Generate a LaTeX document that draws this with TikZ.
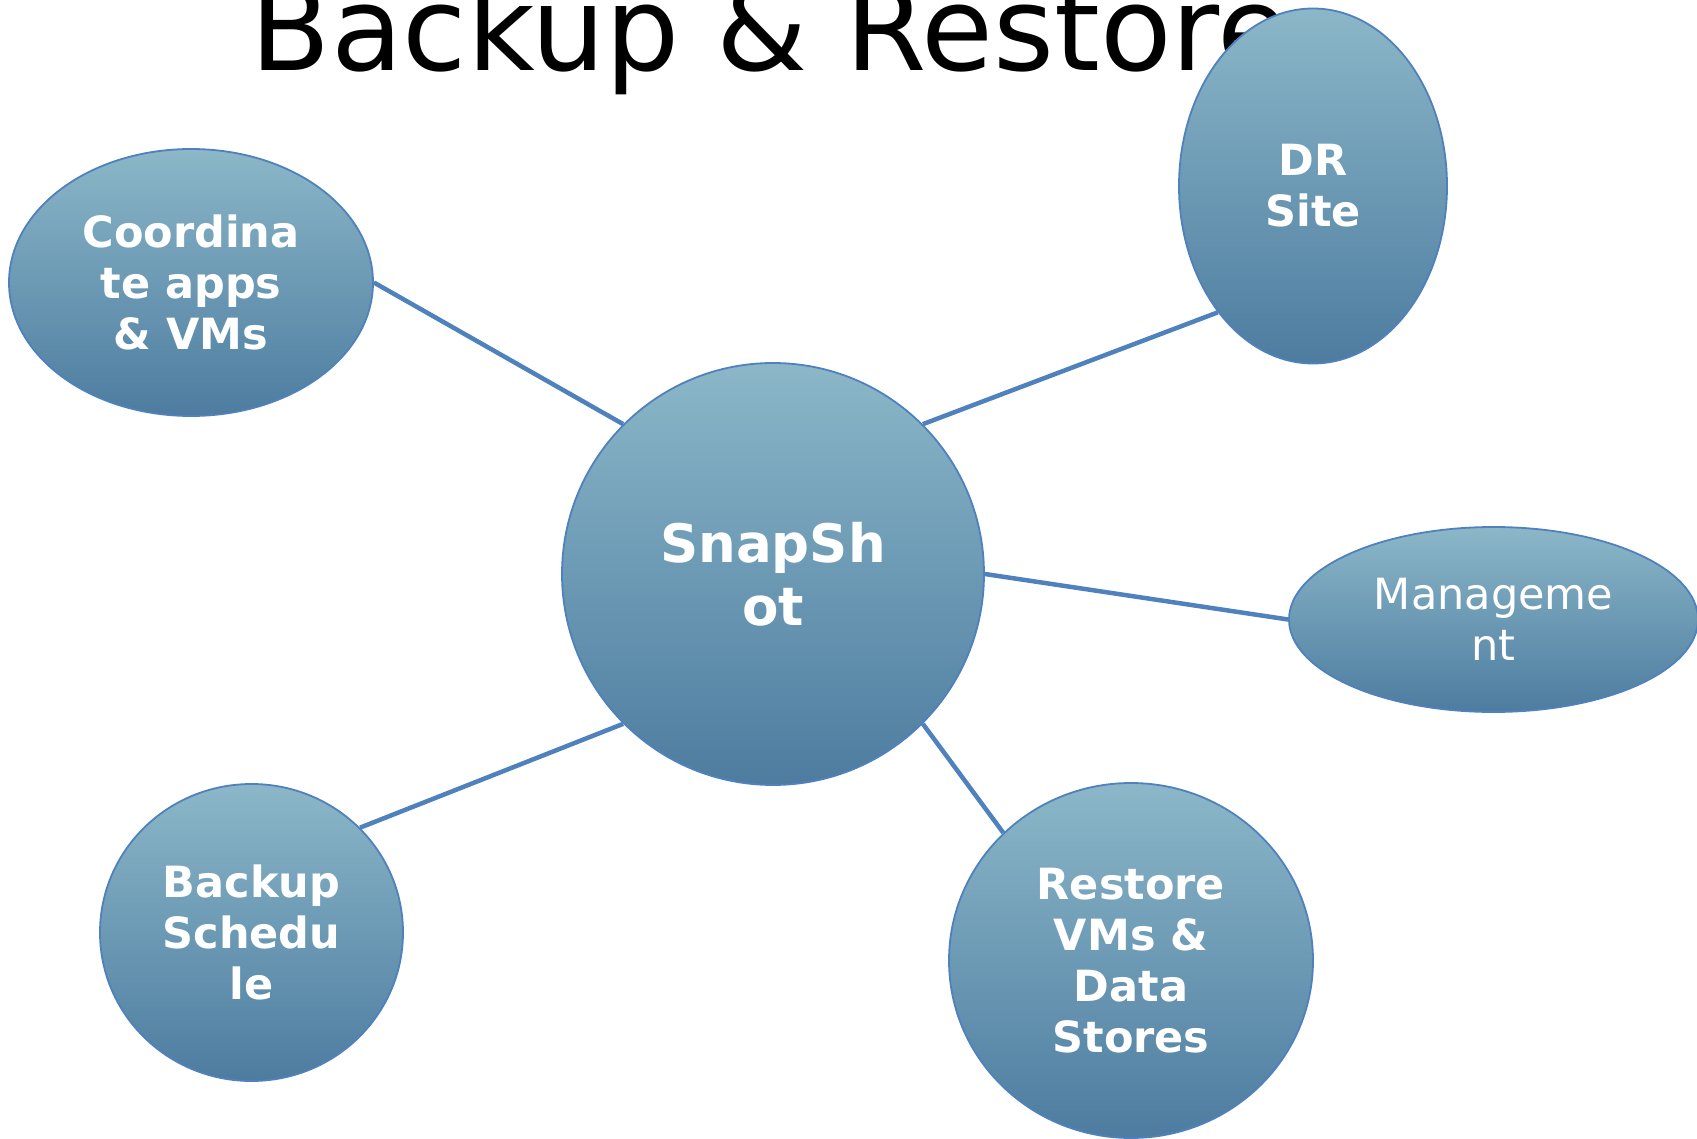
\documentclass[tikz,border=0pt]{standalone}
\usepackage{fontspec}
\newfontfamily\dvs{DejaVu Sans}
\usetikzlibrary{shapes.geometric}
\definecolor{topc}{RGB}{139,183,200}
\definecolor{botc}{RGB}{77,124,160}
\definecolor{edgec}{RGB}{79,129,189}
\tikzset{
  bubble/.style={ellipse, draw=edgec, line width=1.8pt, top color=topc, bottom color=botc,
    inner sep=0pt, align=center, text=white, font=\dvs\bfseries\fontsize{43}{51}\selectfont},
  link/.style={draw=edgec, line width=4.5pt}
}
\begin{document}
\begin{tikzpicture}[x=1pt,y=-1pt]
\useasboundingbox (0,0) rectangle (1697,1139);
\node[anchor=base, inner sep=0pt, font=\dvs\fontsize{117}{140}\selectfont] (title) at (770,71) {Backup \& Restore};
\node[bubble, minimum width=422pt, minimum height=422pt, font=\dvs\bfseries\fontsize{53}{63}\selectfont] (snap) at (773,574) {SnapSh\\ot};
\node[bubble, minimum width=364pt, minimum height=267pt] (coord) at (191,282.5) {Coordina\\te apps\\\& VMs};
\node[bubble, minimum width=268pt, minimum height=355pt] (dr) at (1313,186) {DR\\Site};
\node[bubble, minimum width=409pt, minimum height=185pt, font=\dvs\fontsize{43}{51}\selectfont] (mgmt) at (1493.5,619.5) {Manageme\\nt};
\node[bubble, minimum width=303pt, minimum height=297pt] (bsched) at (251.5,932.5) {Backup\\Schedu\\le};
\node[bubble, minimum width=364pt, minimum height=355pt] (restore) at (1131,960.5) {Restore\\VMs \&\\Data\\Stores};
\draw[link] (snap.135) -- (coord.0);
\draw[link] (snap.45) -- (dr.233);
\draw[link] (snap.0) -- (mgmt.180);
\draw[link] (snap.225) -- (bsched.44.5);
\draw[link] (snap.315) -- (restore.135.7);
\end{tikzpicture}
\end{document}
